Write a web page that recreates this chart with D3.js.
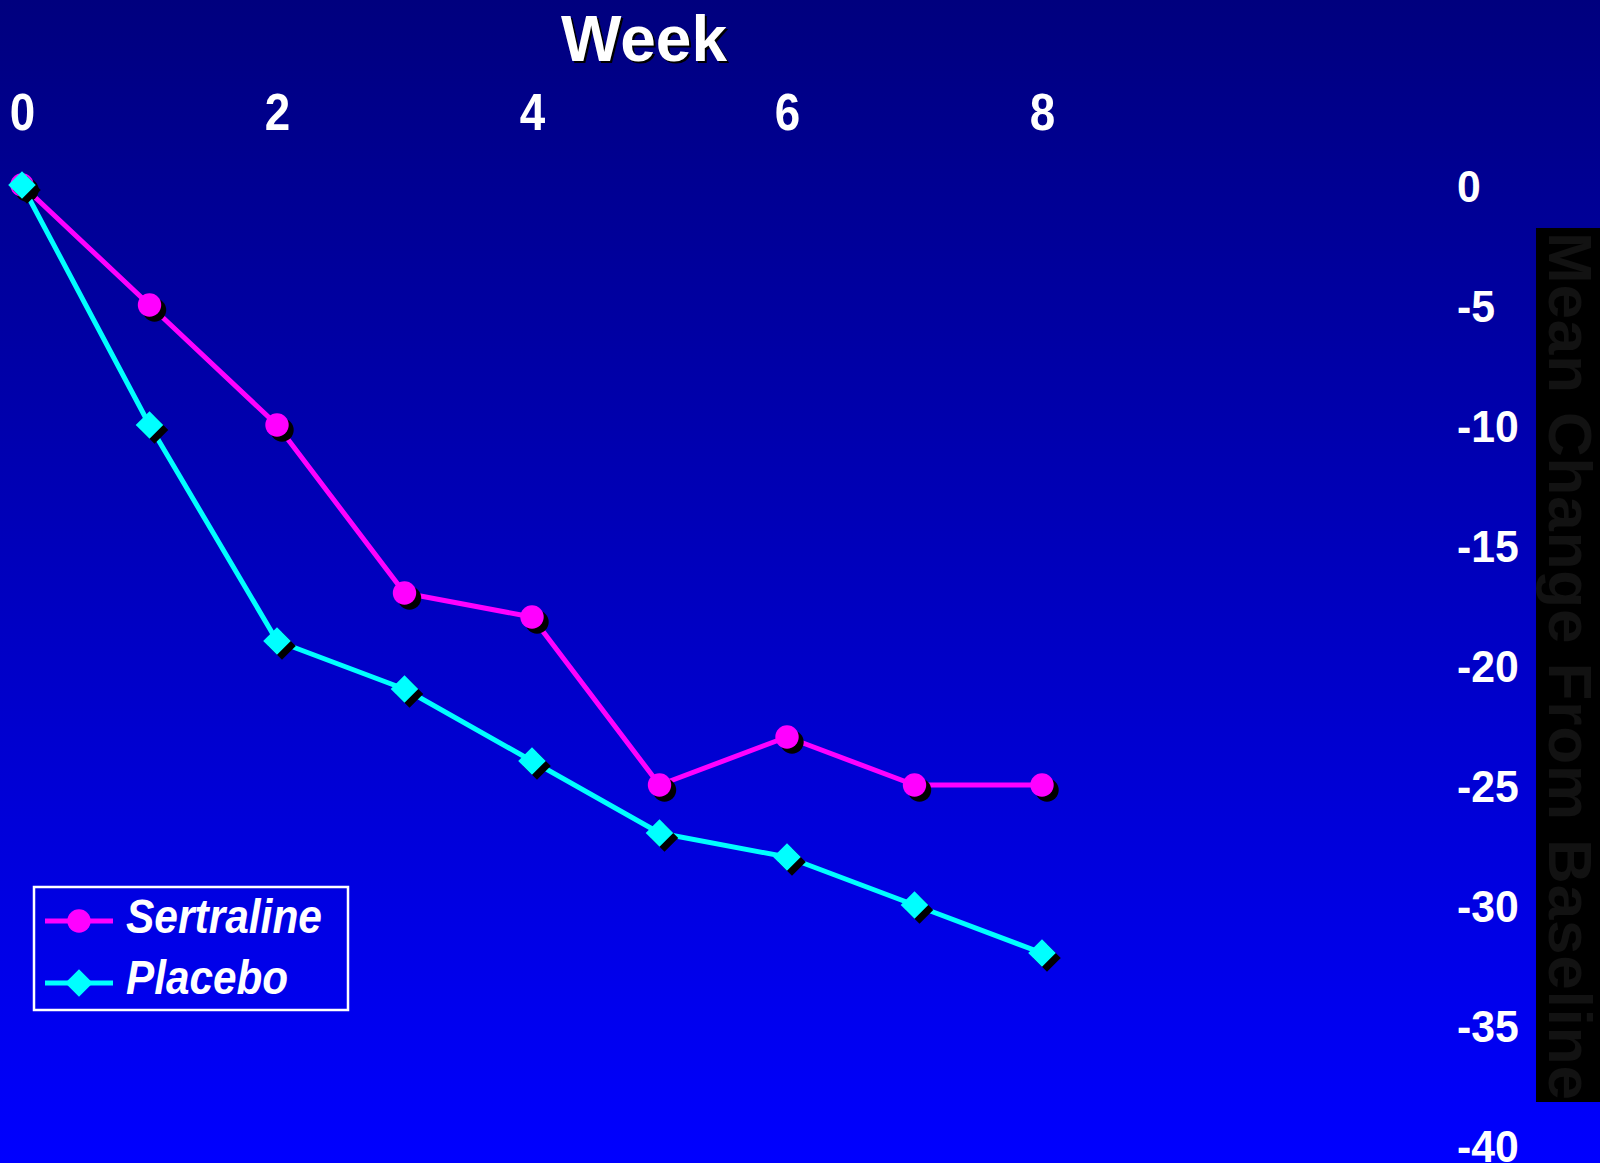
<!DOCTYPE html>
<html>
<head>
<meta charset="utf-8">
<script src="https://cdn.jsdelivr.net/npm/d3@7"></script>
<style>
  html, body { margin: 0; padding: 0; background: #000080; }
  svg { display: block; }
  text { font-family: "Liberation Sans", Arial, sans-serif; }
</style>
</head>
<body>
<svg id="chart" width="1600" height="1163"></svg>
<script>
// Mean change from baseline by week of treatment
const weeks = [0, 1, 2, 3, 4, 5, 6, 7, 8];
const sertraline = [0, -5, -10, -17, -18, -25, -23, -25, -25];
const placebo = [0, -10, -19, -21, -24, -27, -28, -30, -32];
const xTicks = [0, 2, 4, 6, 8];
const yTicks = [0, -5, -10, -15, -20, -25, -30, -35, -40];
const seriesNames = ["Sertraline", "Placebo"];
const seriesColors = ["#ff00ff", "#00ffff"];

const W = 1600, H = 1163;
const svg = d3.select("#chart");

// background: navy at the top fading to bright blue at the bottom
const defs = svg.append("defs");
const grad = defs.append("linearGradient")
  .attr("id", "bg").attr("x1", 0).attr("y1", 0).attr("x2", 0).attr("y2", 1);
grad.append("stop").attr("offset", "0%").attr("stop-color", "#00007e");
grad.append("stop").attr("offset", "100%").attr("stop-color", "#0000ff");
svg.append("rect").attr("width", W).attr("height", H).attr("fill", "url(#bg)");

const x = d3.scaleLinear().domain([0, 8]).range([22, 1042]);
const y = d3.scaleLinear().domain([0, -40]).range([185, 1145]);

// vertical axis title on a black strip
svg.append("rect")
  .attr("x", 1536).attr("y", 228).attr("width", 64).attr("height", 874)
  .attr("fill", "#000");
svg.append("text")
  .attr("transform", "translate(1549,232) rotate(90)")
  .attr("font-size", 62).attr("font-weight", "bold")
  .attr("fill", "#121212")
  .attr("textLength", 868).attr("lengthAdjust", "spacing")
  .text("Mean Change From Baseline");

// chart title
const title = svg.append("g");
title.append("text")
  .attr("x", 646).attr("y", 63).attr("text-anchor", "middle")
  .attr("font-size", 64).attr("font-weight", "bold").attr("fill", "#000")
  .text("Week");
title.append("text")
  .attr("x", 644).attr("y", 61).attr("text-anchor", "middle")
  .attr("font-size", 64).attr("font-weight", "bold").attr("fill", "#fff")
  .text("Week");

// week axis along the top
const xAxis = svg.append("g")
  .attr("transform", "translate(0,130)")
  .call(d3.axisTop(x).tickValues(xTicks).tickSize(0).tickPadding(0)
    .tickFormat(d => String(d)));
xAxis.select(".domain").remove();
xAxis.selectAll("text")
  .attr("font-size", 52).attr("font-weight", "bold").attr("fill", "#fff")
  .attr("font-family", "'Liberation Sans', Arial, sans-serif")
  .attr("transform", "scale(0.88,1)");

// change axis on the right
const yAxis = svg.append("g")
  .attr("transform", "translate(1457,0)")
  .call(d3.axisRight(y).tickValues(yTicks).tickSize(0).tickPadding(0)
    .tickFormat(d => String(d)));
yAxis.select(".domain").remove();
yAxis.selectAll("text")
  .attr("font-size", 45).attr("font-weight", "bold").attr("fill", "#fff")
  .attr("font-family", "'Liberation Sans', Arial, sans-serif")
  .attr("dy", "0.36em")
  .attr("transform", "scale(0.95,1)");

const circleSym = d3.symbol().type(d3.symbolCircle).size(430);
const squareSym = d3.symbol().type(d3.symbolSquare).size(380);
const markerPath = i => i === 0 ? circleSym() : squareSym();
const markerRot = i => i === 0 ? "" : " rotate(45)";

const line = d3.line().x(d => x(d[0])).y(d => y(d[1]));
const series = [sertraline, placebo];

series.forEach((vals, i) => {
  const pts = weeks.map((w, k) => [w, vals[k]]);
  const g = svg.append("g");
  g.append("path")
    .attr("d", line(pts))
    .attr("fill", "none")
    .attr("stroke", seriesColors[i])
    .attr("stroke-width", 5)
    .attr("stroke-linejoin", "round");
  // drop shadows under markers
  g.selectAll(".shadow").data(pts).join("path")
    .attr("class", "shadow")
    .attr("d", markerPath(i))
    .attr("transform", d => `translate(${x(d[0]) + 5},${y(d[1]) + 5})${markerRot(i)}`)
    .attr("fill", "#000");
  g.selectAll(".mark").data(pts).join("path")
    .attr("class", "mark")
    .attr("d", markerPath(i))
    .attr("transform", d => `translate(${x(d[0])},${y(d[1])})${markerRot(i)}`)
    .attr("fill", seriesColors[i]);
});

// legend
const legend = svg.append("g");
legend.append("rect")
  .attr("x", 34).attr("y", 887).attr("width", 314).attr("height", 123)
  .attr("fill", "none").attr("stroke", "#fff").attr("stroke-width", 2.5);
const legendRows = [921, 983];
seriesNames.forEach((name, i) => {
  const ly = legendRows[i];
  legend.append("line")
    .attr("x1", 45).attr("x2", 113).attr("y1", ly).attr("y2", ly)
    .attr("stroke", seriesColors[i]).attr("stroke-width", 5);
  legend.append("path")
    .attr("d", markerPath(i))
    .attr("transform", `translate(79,${ly})${markerRot(i)}`)
    .attr("fill", seriesColors[i]);
  legend.append("text")
    .attr("x", 126).attr("y", ly + 12 + (i === 0 ? 0 : -1))
    .attr("font-size", 48).attr("font-weight", "bold").attr("font-style", "italic")
    .attr("fill", "#fff")
    .attr("textLength", i === 0 ? 196 : 162).attr("lengthAdjust", "spacingAndGlyphs")
    .text(name);
});
</script>
</body>
</html>
